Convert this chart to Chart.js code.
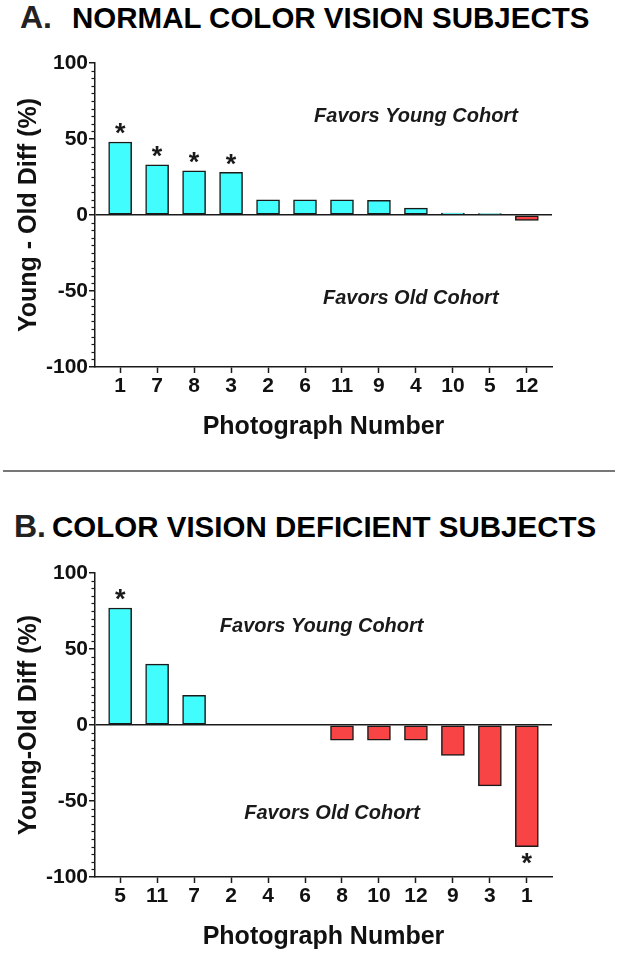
<!DOCTYPE html>
<html lang="en">
<head>
<meta charset="UTF-8">
<title>Young - Old Diff by Photograph</title>
<script src="https://cdn.jsdelivr.net/npm/chart.js"></script>
<style>
  body {
    margin: 0;
    background: #fff;
    width: 618px;
    height: 953px;
    position: relative;
    overflow: hidden;
    font-family: "Liberation Sans", Arial, sans-serif;
  }
  .t { position: absolute; font-weight: bold; white-space: nowrap; color: #000; }
  .big { font-size: 32px; line-height: 32px; color: #222; }
  .txt { font-size: 29.5px; line-height: 29.5px; }
  .box { position: absolute; left: 0; width: 618px; }
  .sep { position: absolute; left: 3px; width: 612px; top: 470px; height: 2px; background: #777; }
</style>
</head>
<body>

<span class="t big" style="left:20px; top:1px;">A.</span>
<span class="t txt" style="left:72px; top:3.2px;">NORMAL COLOR VISION SUBJECTS</span>
<div class="box" style="top:30px; height:420px;"><canvas id="chartA"></canvas></div>

<div class="sep"></div>

<span class="t big" style="left:14px; top:510px;">B.</span>
<span class="t txt" style="left:52px; top:512.2px;">COLOR VISION DEFICIENT SUBJECTS</span>
<div class="box" style="top:540px; height:413px;"><canvas id="chartB"></canvas></div>

<script>
  // panel A - normal color vision
  const catsA = ['1', '7', '8', '3', '2', '6', '11', '9', '4', '10', '5', '12'];
  const valsA = [48, 33, 29, 28, 10, 10, 10, 9.6, 4.5, 1.3, 0.9, -3.5];
  const starsA = [1, 1, 1, 1, 0, 0, 0, 0, 0, 0, 0, 0];
  const notesA = ['Favors Young Cohort', 'Favors Old Cohort'];
  const notesAx = [8, 7.86];
  const notesAy = [64.5, -55];

  // panel B - color vision deficient
  const catsB = ['5', '11', '7', '2', '4', '6', '8', '10', '12', '9', '3', '1'];
  const valsB = [77, 40, 19.5, 0, 0, 0, -10, -10, -10, -20, -40, -80];
  const starsB = [1, 0, 0, 0, 0, 0, 0, 0, 0, 0, 0, 1];
  const notesB = ['Favors Young Cohort', 'Favors Old Cohort'];
  const notesBx = [5.45, 5.73];
  const notesBy = [64.7, -58];

  const CYAN = '#42fdfd';
  const RED = '#f84444';
  const INK = '#1a1a1a';
  const FONT = '"Liberation Sans", Arial, sans-serif';

  // short minor ticks on the y axis, asterisks and the "Favors ..." notes
  const extras = {
    id: 'extras',
    afterDraw(chart) {
      const o = chart.options.plugins.extras;
      const ctx = chart.ctx;
      const y = chart.scales.y, x = chart.scales.x;
      ctx.save();
      ctx.strokeStyle = INK;
      ctx.lineWidth = 1.2;
      y.ticks.forEach(t => {
        if (t.value % 50 !== 0) {
          const py = Math.round(y.getPixelForValue(t.value)) + 0.5;
          ctx.beginPath();
          ctx.moveTo(y.right - 3.5, py);
          ctx.lineTo(y.right, py);
          ctx.stroke();
        }
      });

      ctx.fillStyle = INK;
      ctx.textAlign = 'center';
      ctx.textBaseline = 'middle';
      ctx.font = 'bold 27px ' + FONT;
      const bars = chart.getDatasetMeta(0).data;
      o.stars.forEach((s, i) => {
        if (!s) return;
        const b = bars[i];
        const v = o.vals[i];
        ctx.fillText('*', b.x, v >= 0 ? b.y - 7 : b.y + 18);
      });

      ctx.font = 'italic bold 20px ' + FONT;
      o.notes.forEach((n, i) => {
        ctx.fillText(n, x.getPixelForValue(o.nx[i]), y.getPixelForValue(o.ny[i]));
      });
      ctx.restore();
    }
  };

  function makeChart(id, cats, vals, stars, notes, nx, ny, yTitle, xHeight, xTitlePad) {
    const ctx = document.getElementById(id).getContext('2d');
    return new Chart(ctx, {
      type: 'bar',
      data: {
        datasets: [{
          data: cats.map((c, i) => ({ x: i, y: vals[i] })),
          backgroundColor: vals.map(v => v >= 0 ? CYAN : RED),
          borderColor: INK,
          borderWidth: 1.5,
          borderSkipped: false,
          barThickness: 23
        }]
      },
      options: {
        responsive: true,
        maintainAspectRatio: false,
        animation: false,
        layout: { padding: { top: 33, right: 66, left: 0, bottom: 0 } },
        plugins: {
          legend: { display: false },
          tooltip: { enabled: false },
          extras: { stars: stars, vals: vals, notes: notes, nx: nx, ny: ny }
        },
        scales: {
          x: {
            type: 'linear',
            offset: false,
            min: -0.68,
            max: 11.68,
            afterBuildTicks: s => { s.ticks = cats.map((c, i) => ({ value: i })); },
            afterFit: s => { s.height = xHeight; },
            ticks: {
              autoSkip: false,
              maxRotation: 0,
              padding: 1,
              color: '#111',
              font: { family: FONT, size: 21, weight: 'bold' },
              callback: v => cats[v]
            },
            grid: { offset: false, drawOnChartArea: false, tickLength: 6, tickColor: INK, tickWidth: 1.5 },
            border: { color: INK, width: 1.5 },
            title: {
              display: true,
              text: 'Photograph Number',
              color: '#111',
              font: { family: FONT, size: 25, weight: 'bold' },
              padding: { top: 0, bottom: xTitlePad }
            }
          },
          y: {
            min: -100,
            max: 100,
            afterFit: s => { s.width = 95; },
            ticks: {
              stepSize: 5,
              autoSkip: false,
              padding: 1,
              color: '#111',
              font: { family: FONT, size: 21, weight: 'bold' },
              callback: v => (v % 50 === 0 ? v : '')
            },
            grid: {
              color: c => (c.tick && c.tick.value === 0 ? INK : 'transparent'),
              lineWidth: 1.5,
              tickLength: 6,
              tickColor: c => (c.tick && c.tick.value % 50 === 0 ? INK : 'transparent'),
              tickWidth: 1.5
            },
            border: { color: INK, width: 1.5 },
            title: {
              display: true,
              text: yTitle,
              color: '#111',
              font: { family: FONT, size: 25, weight: 'bold' },
              padding: { top: 14, bottom: 0 }
            }
          }
        }
      },
      plugins: [extras]
    });
  }

  makeChart('chartA', catsA, valsA, starsA, notesA, notesAx, notesAy, 'Young - Old Diff (%)', 83, 8);
  makeChart('chartB', catsB, valsB, starsB, notesB, notesBx, notesBy, 'Young-Old Diff (%)', 76, 1);
</script>

</body>
</html>
